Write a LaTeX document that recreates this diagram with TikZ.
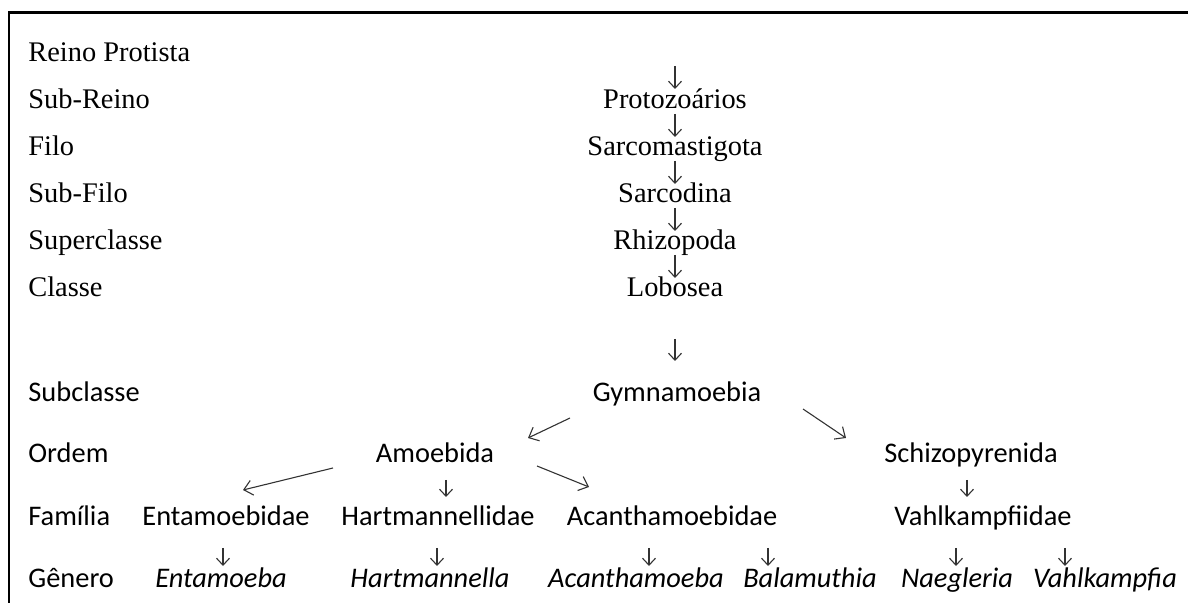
\documentclass[tikz,border=0pt]{standalone}
\usepackage{fontspec}
\setmainfont{Liberation Serif}
\newfontfamily\carlito{Carlito}
\usetikzlibrary{arrows.meta}
\tikzset{
  rank/.style={anchor=base west, inner sep=0pt, font=\fontsize{14.2}{17}\selectfont},
  srank/.style={rank, font=\fontsize{14.2}{17}\selectfont\carlito},
  taxon/.style={anchor=base, inner sep=0pt, font=\fontsize{14.2}{17}\selectfont},
  staxon/.style={taxon, font=\fontsize{14.2}{17}\selectfont\carlito},
  genus/.style={taxon, font=\fontsize{14.2}{17}\selectfont\carlito\itshape},
  arr/.style={-{Straight Barb[length=3.5pt,width=6.5pt]}, line width=0.55pt, black!80},
  darr/.style={arr, -{Straight Barb[length=4.2pt,width=7.5pt]}}
}
\begin{document}
\begin{tikzpicture}[x=0.5pt,y=-0.5pt]
		\useasboundingbox (0,0) rectangle (1188,603);
		%frame
		\draw[line width=1.2pt] (9,603) -- (9,12.5) -- (1188,12.5);
		%rank names on the left
		\node[rank] (rreino) at (28,62) {Reino Protista};
		\node[rank] (rsubreino) at (28,109) {Sub-Reino};
		\node[rank] (rfilo) at (28,156) {Filo};
		\node[rank] (rsubfilo) at (28,203) {Sub-Filo};
		\node[rank] (rsuperclasse) at (28,250) {Superclasse};
		\node[rank] (rclasse) at (28,297) {Classe};
		\node[srank] (rsubclasse) at (28,402) {Subclasse};
		\node[srank] (rordem) at (28,463) {Ordem};
		\node[srank] (rfamilia) at (28,526) {Família};
		\node[srank] (rgenero) at (28,588) {Gênero};
		%upper chain
		\coordinate (top) at (675,66);
		\node[taxon] (protozoarios) at (675,109) {Protozoários};
		\node[taxon] (sarcomastigota) at (675,156) {Sarcomastigota};
		\node[taxon] (sarcodina) at (675,203) {Sarcodina};
		\node[taxon] (rhizopoda) at (675,250) {Rhizopoda};
		\node[taxon] (lobosea) at (675,297) {Lobosea};
		\draw[arr] (top) -- ([shift={(0,-20)}]protozoarios.base);
		\draw[arr] ([shift={(0,5)}]protozoarios.base) -- ([shift={(0,-19)}]sarcomastigota.base);
		\draw[arr] ([shift={(0,5)}]sarcomastigota.base) -- ([shift={(0,-19)}]sarcodina.base);
		\draw[arr] ([shift={(0,5)}]sarcodina.base) -- ([shift={(0,-19)}]rhizopoda.base);
		\draw[arr] ([shift={(0,5)}]rhizopoda.base) -- ([shift={(0,-19)}]lobosea.base);
		%subclass and orders
		\node[staxon] (gymnamoebia) at (677,402) {Gymnamoebia};
		\node[staxon] (amoebida) at (435,463) {Amoebida};
		\node[staxon] (schizopyrenida) at (971,463) {Schizopyrenida};
		\draw[arr] ([shift={(0,42)}]lobosea.base) -- ([shift={(-2,-41)}]gymnamoebia.base);
		\draw[darr] ([shift={(-107,16)}]gymnamoebia.base) -- ([shift={(93,-25)}]amoebida.base);
		\draw[darr] ([shift={(126,7)}]gymnamoebia.base) -- ([shift={(-125,-25)}]schizopyrenida.base);
		%families
		\node[staxon] (entamoebidae) at (226,526) {Entamoebidae};
		\node[staxon] (hartmannellidae) at (438,526) {Hartmannellidae};
		\node[staxon] (acanthamoebidae) at (672,526) {Acanthamoebidae};
		\node[staxon] (vahlkampfiidae) at (983,526) {Vahlkampfiidae};
		\draw[darr] ([shift={(-102,5)}]amoebida.base) -- ([shift={(17,-36)}]entamoebidae.base);
		\draw[arr] ([shift={(11,17)}]amoebida.base) -- ([shift={(8,-29)}]hartmannellidae.base);
		\draw[darr] ([shift={(102,3)}]amoebida.base) -- ([shift={(-83,-39)}]acanthamoebidae.base);
		\draw[arr] ([shift={(-4,17)}]schizopyrenida.base) -- ([shift={(-16,-29)}]vahlkampfiidae.base);
		%genera
		\node[genus] (entamoeba) at (221,588) {Entamoeba};
		\node[genus] (hartmannella) at (430,588) {Hartmannella};
		\node[genus] (acanthamoeba) at (636,588) {Acanthamoeba};
		\node[genus] (balamuthia) at (810,588) {Balamuthia};
		\node[genus] (naegleria) at (957,588) {Naegleria};
		\node[genus] (vahlkampfia) at (1105,588) {Vahlkampfia};
		\draw[arr] ([shift={(-3,22)}]entamoebidae.base) -- ([shift={(2,-22)}]entamoeba.base);
		\draw[arr] ([shift={(-1,22)}]hartmannellidae.base) -- ([shift={(7,-22)}]hartmannella.base);
		\draw[arr] ([shift={(-23,22)}]acanthamoebidae.base) -- ([shift={(13,-22)}]acanthamoeba.base);
		\draw[arr] ([shift={(96,22)}]acanthamoebidae.base) -- ([shift={(-42,-22)}]balamuthia.base);
		\draw[arr] ([shift={(-27,22)}]vahlkampfiidae.base) -- ([shift={(-1,-22)}]naegleria.base);
		\draw[arr] ([shift={(82,22)}]vahlkampfiidae.base) -- ([shift={(-40,-22)}]vahlkampfia.base);
	\end{tikzpicture}
\end{document}
